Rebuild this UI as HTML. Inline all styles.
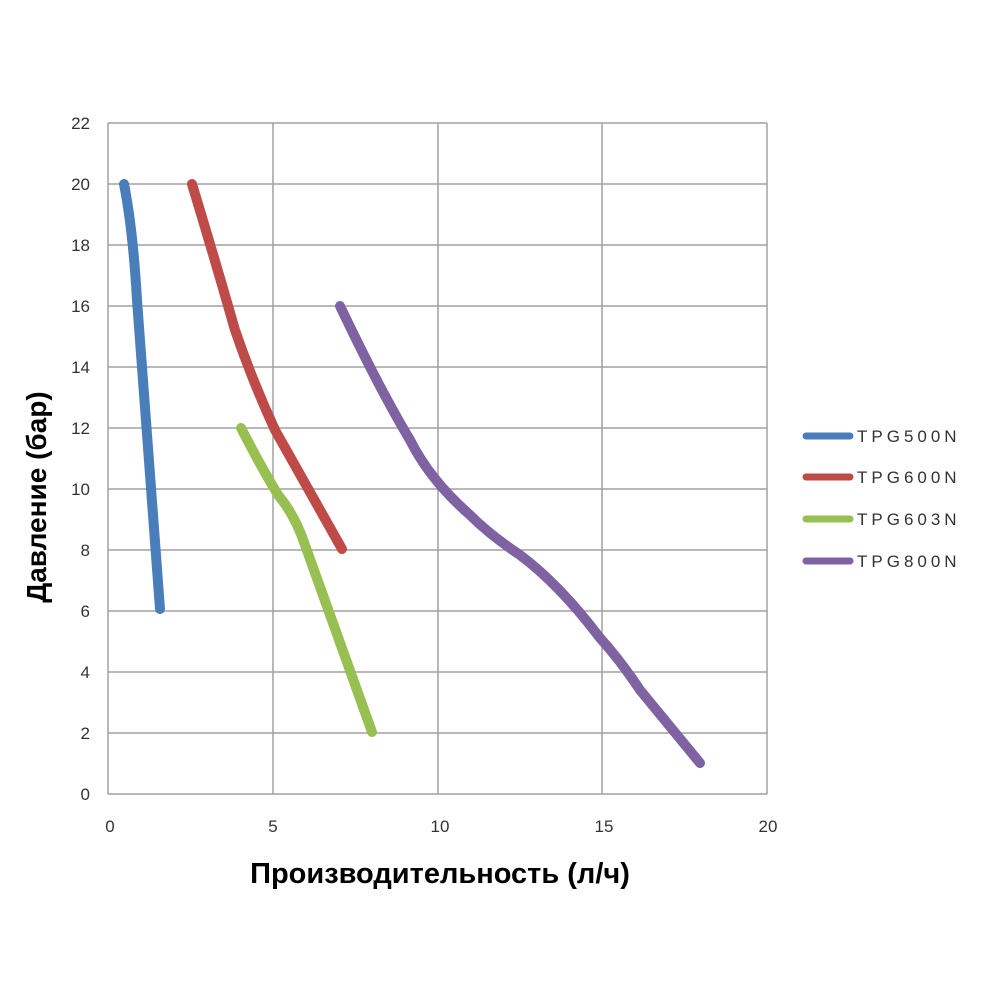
<!DOCTYPE html>
<html><head><meta charset="utf-8"><style>
body{margin:0;background:#fff;}
svg{display:block;}
</style></head><body>
<svg width="1000" height="1000" xmlns="http://www.w3.org/2000/svg" font-family="Liberation Sans, sans-serif">
<g stroke="#a0a0a0" stroke-width="1.5">
<line x1="108" y1="123" x2="767" y2="123"/>
<line x1="108" y1="184" x2="767" y2="184"/>
<line x1="108" y1="245" x2="767" y2="245"/>
<line x1="108" y1="306" x2="767" y2="306"/>
<line x1="108" y1="367" x2="767" y2="367"/>
<line x1="108" y1="428" x2="767" y2="428"/>
<line x1="108" y1="489" x2="767" y2="489"/>
<line x1="108" y1="550" x2="767" y2="550"/>
<line x1="108" y1="611" x2="767" y2="611"/>
<line x1="108" y1="672" x2="767" y2="672"/>
<line x1="108" y1="733" x2="767" y2="733"/>
<line x1="108" y1="794" x2="767" y2="794"/>
<line x1="108" y1="123" x2="108" y2="794"/>
<line x1="273" y1="123" x2="273" y2="794"/>
<line x1="438" y1="123" x2="438" y2="794"/>
<line x1="602" y1="123" x2="602" y2="794"/>
<line x1="767" y1="123" x2="767" y2="794"/>
</g>
<g font-size="17" fill="#333" text-anchor="end">
<text x="90" y="129">22</text><text x="90" y="190">20</text><text x="90" y="251">18</text>
<text x="90" y="312">16</text><text x="90" y="373">14</text><text x="90" y="434">12</text>
<text x="90" y="495">10</text><text x="90" y="556">8</text><text x="90" y="617">6</text>
<text x="90" y="678">4</text><text x="90" y="739">2</text><text x="90" y="800">0</text>
</g>
<g font-size="17" fill="#333" text-anchor="middle">
<text x="110" y="832">0</text><text x="273" y="832">5</text><text x="440" y="832">10</text>
<text x="604" y="832">15</text><text x="768" y="832">20</text>
</g>
<text x="440" y="883" font-size="29" font-weight="bold" text-anchor="middle">Производительность (л/ч)</text>
<text transform="translate(46,497) rotate(-90)" font-size="28" font-weight="bold" text-anchor="middle">Давление (бар)</text>
<g fill="none" stroke-width="10" stroke-linecap="round" stroke-linejoin="round">
<path stroke="#4a7ebb" d="M124,184 Q133,230 137,300 L160,609"/>
<path stroke="#be4b48" d="M192,184 Q215,260 235,330 Q252,380 275,430 L342,549"/>
<path stroke="#98bf51" d="M241,428 Q260,465 278,495 Q295,515 305,545 L372,732"/>
<path stroke="#7e62a1" d="M340,306 Q380,390 410,440 Q430,480 470,515 Q490,535 520,555 Q560,585 600,638 Q620,660 640,690 L700,763"/>
</g>
<g stroke-width="7" stroke-linecap="round">
<line x1="806" y1="436" x2="850" y2="436" stroke="#4a7ebb"/>
<line x1="806" y1="477" x2="850" y2="477" stroke="#be4b48"/>
<line x1="806" y1="519" x2="850" y2="519" stroke="#98bf51"/>
<line x1="806" y1="561" x2="850" y2="561" stroke="#7e62a1"/>
</g>
<g font-size="17" fill="#333" letter-spacing="4">
<text x="857" y="442">TPG500N</text>
<text x="857" y="483">TPG600N</text>
<text x="857" y="525">TPG603N</text>
<text x="857" y="567">TPG800N</text>
</g>
</svg>
</body></html>
